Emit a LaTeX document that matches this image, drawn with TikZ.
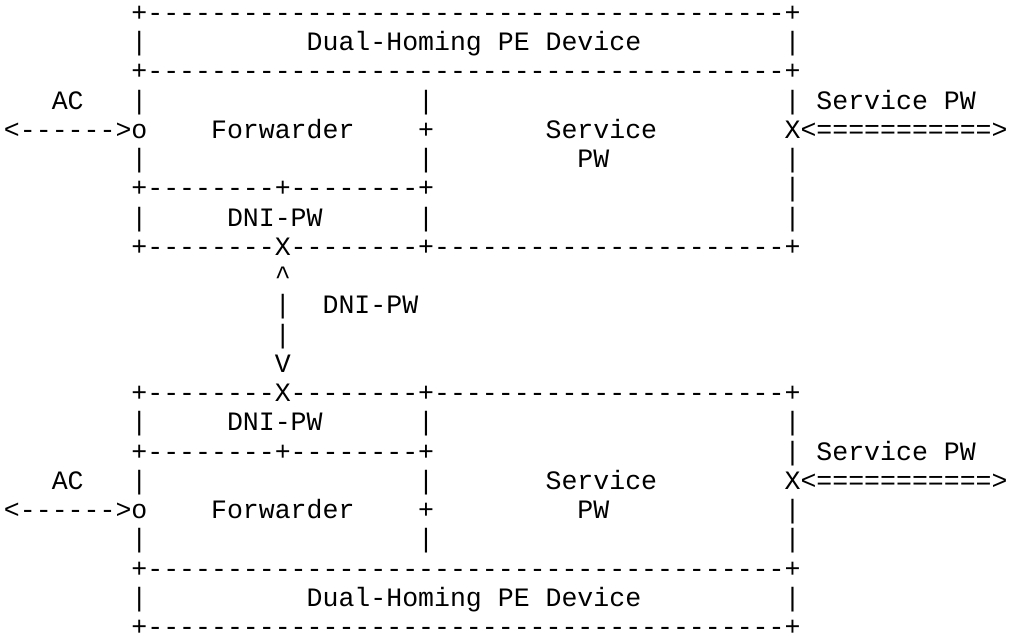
\documentclass[tikz,border=0pt]{standalone}
\usepackage{fontspec}
\setmonofont{Liberation Mono}
\tikzset{asc/.style={anchor=base west, inner sep=0pt, outer sep=0pt, text=black,
  font=\ttfamily\fontsize{26.55pt}{29pt}\selectfont}}
% place text at a character column and a text row
\newcommand\asc[4]{\node[asc] (#3) at ({4pt+#1*15.93pt},{614.5pt-(#2-1)*29.24pt}) {#4};}
\begin{document}
\begin{tikzpicture}
\useasboundingbox (0,0) rectangle (1011pt,636pt);
% ---- upper PE device ----
\asc{8}{1}{uTop}{+----------------------------------------+}
\asc{8}{2}{uTitleL}{|}
\asc{19}{2}{uTitleA}{Dual-Homing}
\asc{31}{2}{uTitleB}{PE}
\asc{34}{2}{uTitleC}{Device}
\asc{49}{2}{uTitleR}{|}
\asc{8}{3}{uSep}{+----------------------------------------+}
\asc{3}{4}{uAC}{AC}
\asc{8}{4}{uL4}{|}
\asc{26}{4}{uM4}{|}
\asc{49}{4}{uR4}{|}
\asc{51}{4}{uSPWa}{Service}
\asc{59}{4}{uSPWb}{PW}
\asc{0}{5}{uACarrow}{<------>o}
\asc{13}{5}{uFwd}{Forwarder}
\asc{26}{5}{uM5}{+}
\asc{34}{5}{uSvc}{Service}
\asc{49}{5}{uPWarrow}{X<===========>}
\asc{8}{6}{uL6}{|}
\asc{26}{6}{uM6}{|}
\asc{36}{6}{uPW}{PW}
\asc{49}{6}{uR6}{|}
\asc{8}{7}{uDniTop}{+--------+--------+}
\asc{49}{7}{uR7}{|}
\asc{8}{8}{uL8}{|}
\asc{14}{8}{uDni}{DNI-PW}
\asc{26}{8}{uM8}{|}
\asc{49}{8}{uR8}{|}
\asc{8}{9}{uBot}{+--------X--------+----------------------+}
% ---- DNI-PW link ----
\asc{17}{10}{lUp}{\textasciicircum}
\asc{17}{11}{lBar1}{|}
\asc{20}{11}{lLabel}{DNI-PW}
\asc{17}{12}{lBar2}{|}
\asc{17}{13}{lDown}{V}
% ---- lower PE device ----
\asc{8}{14}{dTop}{+--------X--------+----------------------+}
\asc{8}{15}{dL15}{|}
\asc{14}{15}{dDni}{DNI-PW}
\asc{26}{15}{dM15}{|}
\asc{49}{15}{dR15}{|}
\asc{8}{16}{dDniBot}{+--------+--------+}
\asc{49}{16}{dR16}{|}
\asc{51}{16}{dSPWa}{Service}
\asc{59}{16}{dSPWb}{PW}
\asc{3}{17}{dAC}{AC}
\asc{8}{17}{dL17}{|}
\asc{26}{17}{dM17}{|}
\asc{34}{17}{dSvc}{Service}
\asc{49}{17}{dPWarrow}{X<===========>}
\asc{0}{18}{dACarrow}{<------>o}
\asc{13}{18}{dFwd}{Forwarder}
\asc{26}{18}{dM18}{+}
\asc{36}{18}{dPW}{PW}
\asc{49}{18}{dR18}{|}
\asc{8}{19}{dL19}{|}
\asc{26}{19}{dM19}{|}
\asc{49}{19}{dR19}{|}
\asc{8}{20}{dSep}{+----------------------------------------+}
\asc{8}{21}{dTitleL}{|}
\asc{19}{21}{dTitleA}{Dual-Homing}
\asc{31}{21}{dTitleB}{PE}
\asc{34}{21}{dTitleC}{Device}
\asc{49}{21}{dTitleR}{|}
\asc{8}{22}{dBot}{+----------------------------------------+}
\end{tikzpicture}
\end{document}
